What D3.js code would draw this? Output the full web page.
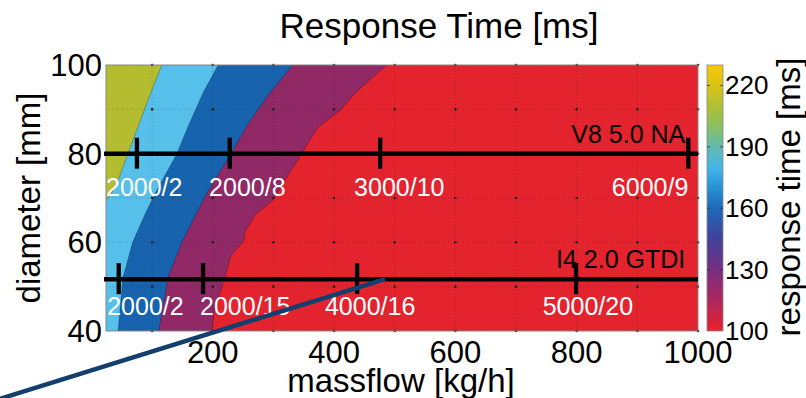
<!DOCTYPE html>
<html>
<head>
<meta charset="utf-8">
<script src="https://cdn.jsdelivr.net/npm/d3@7"></script>
<style>
  body { margin: 0; background: #fff; }
  svg { display: block; font-family: "Liberation Sans", Arial, sans-serif; }
</style>
</head>
<body>
<svg id="chart" width="806" height="398"></svg>
<script>
// axis ticks
var massflowTicks = [200, 400, 600, 800, 1000];
var diameterTicks = [40, 60, 80, 100];
var gridMassflow = [100, 200, 300, 400, 500, 600, 700, 800, 900, 1000];
var gridDiameter = [40, 50, 60, 70, 80, 90, 100];
var colorbarTicks = [100, 130, 160, 190, 220];

// contour boundaries [massflow, diameter], top -> bottom/left
var boundaryOliveBlue = [[116,100],[93,92],[73,84.7],[60,80],[40,72.5],[27,70],[24,69.5]];
var boundaryLightDark = [[209,100],[184,93.7],[159,86],[141,80],[108,71.8],[88,66.2],[68,60],[52,52],[44,40]];
var boundaryBluePurple = [[332,100],[294,93.7],[257,86.5],[230,80],[190,71],[149,60],[126,52],[111,40]];
var boundaryPurpleRed = [[487,100],[464,97.3],[435,93.7],[410,89.8],[374,86],[357,82.4],[347,80],[322,74.7],
  [299,69.5],[270,66.2],[253,62.3],[252,60.5],[230,57],[220,52],[212,48.8],[202,44.3],[199,40]];
var bandColors = ['#e3242f', '#902966', '#1763ae', '#56bfea', '#b3bd2f']; // red, purple, blue, light blue, olive

// colorbar map
var cmapValues = [100, 115, 130, 145, 160, 172, 180, 190, 200, 210, 220, 230];
var cmapColors = ['#e8222d', '#ad275c', '#772f82', '#3f4299', '#1f6ab9', '#2b98da', '#46b6e8', '#62bab0',
  '#8abf62', '#b0bf35', '#d9c416', '#f8c800'];

// engines
var v8Diameter = 80;
var v8Massflow = [75, 228, 476, 984];
var v8Labels = ['2000/2', '2000/8', '3000/10', '6000/9'];
var v8LabelAt = [24, 194, 433, 858];
var v8LabelDiameter = 70.5;
var i4Diameter = 51.7;
var i4Massflow = [45, 184, 438, 799];
var i4Labels = ['2000/2', '2000/15', '4000/16', '5000/20'];
var i4LabelAt = [26, 179, 385, 744];
var i4LabelDiameter = 43.6;
var engineNames = ['V8 5.0 NA', 'I4 2.0 GTDI'];
var engineNameAt = [[979, 82.4], [979, 54.2]];

// stray pointer line
var pointerLine = [[-151, 24.7], [484, 51.7]];

var svg = d3.select('#chart');
var x = d3.scaleLinear().domain([24, 1000]).range([106, 698]);
var y = d3.scaleLinear().domain([40, 100]).range([331, 65]);
var c = d3.scaleLinear().domain([100, 230]).range([331, 65]);

var line = d3.line().x(function(d) { return x(d[0]); }).y(function(d) { return y(d[1]); });

svg.append('clipPath').attr('id', 'plotclip')
  .append('rect').attr('x', x(24)).attr('y', y(100))
  .attr('width', x(1000) - x(24)).attr('height', y(40) - y(100));

var plot = svg.append('g').attr('clip-path', 'url(#plotclip)');

// filled bands: red background, then each region left of a boundary
plot.append('rect').attr('x', x(24)).attr('y', y(100))
  .attr('width', x(1000) - x(24)).attr('height', y(40) - y(100))
  .attr('fill', bandColors[0]);

var bands = [
  { pts: boundaryPurpleRed.concat([[24, 40], [24, 100]]), color: bandColors[1] },
  { pts: boundaryBluePurple.concat([[24, 40], [24, 100]]), color: bandColors[2] },
  { pts: boundaryLightDark.concat([[24, 40], [24, 100]]), color: bandColors[3] },
  { pts: boundaryOliveBlue.concat([[24, 100]]), color: bandColors[4] }
];
bands.forEach(function(b) {
  plot.append('path').attr('d', line(b.pts) + 'Z').attr('fill', b.color);
});
[boundaryPurpleRed, boundaryBluePurple, boundaryLightDark, boundaryOliveBlue].forEach(function(b) {
  plot.append('path').attr('d', line(b)).attr('fill', 'none')
    .attr('stroke', 'rgba(0,0,0,0.35)').attr('stroke-width', 0.7);
});

// dotted grid and dots at intersections
gridMassflow.forEach(function(m) {
  plot.append('line').attr('x1', x(m)).attr('x2', x(m)).attr('y1', y(100)).attr('y2', y(40))
    .attr('stroke', 'rgba(0,0,0,0.3)').attr('stroke-width', 0.6).attr('stroke-dasharray', '1,2');
});
gridDiameter.forEach(function(d) {
  plot.append('line').attr('x1', x(24)).attr('x2', x(1000)).attr('y1', y(d)).attr('y2', y(d))
    .attr('stroke', 'rgba(0,0,0,0.3)').attr('stroke-width', 0.6).attr('stroke-dasharray', '1,2');
});
gridMassflow.forEach(function(m) {
  gridDiameter.forEach(function(d) {
    svg.append('circle').attr('cx', x(m)).attr('cy', y(d)).attr('r', 1.3).attr('fill', '#222');
  });
});

// frame
svg.append('rect').attr('x', x(24)).attr('y', y(100))
  .attr('width', x(1000) - x(24)).attr('height', y(40) - y(100))
  .attr('fill', 'none').attr('stroke', '#888').attr('stroke-width', 1);

// axes labels
var xAxis = svg.append('g');
massflowTicks.forEach(function(t) {
  xAxis.append('text').attr('x', x(t)).attr('y', 363).attr('text-anchor', 'middle')
    .attr('font-size', 31).text(t);
});
var yAxis = svg.append('g');
diameterTicks.forEach(function(t) {
  yAxis.append('text').attr('x', 102).attr('y', y(t) + 11).attr('text-anchor', 'end')
    .attr('font-size', 31).text(t);
});

svg.append('text').attr('x', 439).attr('y', 38).attr('text-anchor', 'middle')
  .attr('font-size', 35).text('Response Time [ms]');
svg.append('text').attr('x', 401).attr('y', 392).attr('text-anchor', 'middle')
  .attr('font-size', 33).text('massflow [kg/h]');
svg.append('text').attr('transform', 'translate(40,198) rotate(-90)').attr('text-anchor', 'middle')
  .attr('font-size', 33).text('diameter [mm]');

// engine operating lines
function engineLine(diam, marks, labels, labelAt, labelDiam) {
  var g = svg.append('g');
  g.append('line').attr('x1', x(24) - 2).attr('x2', x(1000)).attr('y1', y(diam)).attr('y2', y(diam))
    .attr('stroke', '#000').attr('stroke-width', 4.5);
  marks.forEach(function(m) {
    g.append('line').attr('x1', x(m)).attr('x2', x(m)).attr('y1', y(diam) - 16).attr('y2', y(diam) + 15)
      .attr('stroke', '#000').attr('stroke-width', 4.3);
  });
  labels.forEach(function(l, i) {
    g.append('text').attr('x', x(labelAt[i])).attr('y', y(labelDiam))
      .attr('fill', '#fff').attr('font-size', 25).text(l);
  });
}
engineLine(v8Diameter, v8Massflow, v8Labels, v8LabelAt, v8LabelDiameter);
engineLine(i4Diameter, i4Massflow, i4Labels, i4LabelAt, i4LabelDiameter);
engineNames.forEach(function(n, i) {
  svg.append('text').attr('x', x(engineNameAt[i][0])).attr('y', y(engineNameAt[i][1]))
    .attr('text-anchor', 'end').attr('font-size', 25).attr('fill', '#000').text(n);
});

// pointer line
svg.append('path').attr('d', line(pointerLine)).attr('stroke', '#123f6e')
  .attr('stroke-width', 4.5).attr('fill', 'none');

// colorbar
var defs = svg.append('defs');
var grad = defs.append('linearGradient').attr('id', 'cbar')
  .attr('x1', 0).attr('y1', 1).attr('x2', 0).attr('y2', 0);
cmapValues.forEach(function(v, i) {
  grad.append('stop').attr('offset', (v - 100) / 130).attr('stop-color', cmapColors[i]);
});
svg.append('rect').attr('x', 707).attr('y', c(230)).attr('width', 16).attr('height', c(100) - c(230))
  .attr('fill', 'url(#cbar)').attr('stroke', '#888').attr('stroke-width', 0.8);
colorbarTicks.forEach(function(t) {
  if (t > 100) {
    svg.append('line').attr('x1', 707).attr('x2', 710).attr('y1', c(t)).attr('y2', c(t))
      .attr('stroke', '#333').attr('stroke-width', 0.8);
    svg.append('line').attr('x1', 720).attr('x2', 723).attr('y1', c(t)).attr('y2', c(t))
      .attr('stroke', '#333').attr('stroke-width', 0.8);
  }
  svg.append('text').attr('x', 725).attr('y', c(t) + 9).attr('font-size', 26).text(t);
});
svg.append('text').attr('transform', 'translate(800,197) rotate(-90)').attr('text-anchor', 'middle')
  .attr('font-size', 33).text('response time [ms]');
</script>
</body>
</html>
